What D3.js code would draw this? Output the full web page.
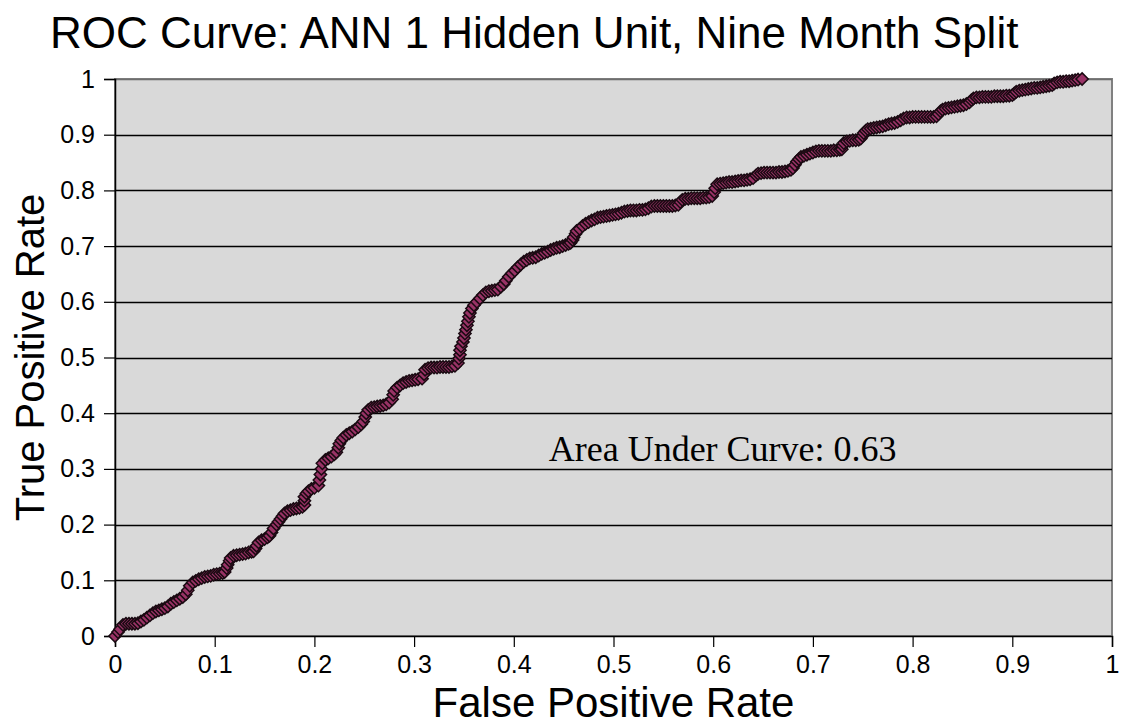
<!DOCTYPE html>
<html>
<head>
<meta charset="utf-8">
<script src="https://cdn.jsdelivr.net/npm/d3@7"></script>
<style>
  body { margin: 0; background: #fff; }
  svg text { font-family: "Liberation Sans", Arial, sans-serif; fill: #000; }
</style>
</head>
<body>
<div id="chart"></div>
<script>
// ROC points: false positive rate ...
var fpr = [
  0, 0.003, 0.005, 0.008, 0.011, 0.014, 0.017, 0.02, 0.023, 0.026,
  0.029, 0.032, 0.035, 0.038, 0.041, 0.044, 0.047, 0.05, 0.053, 0.056,
  0.059, 0.062, 0.065, 0.068, 0.071, 0.073, 0.075, 0.078, 0.081, 0.084,
  0.087, 0.09, 0.093, 0.096, 0.099, 0.102, 0.105, 0.108, 0.11, 0.112,
  0.113, 0.115, 0.116, 0.119, 0.122, 0.125, 0.128, 0.131, 0.134, 0.137,
  0.139, 0.141, 0.142, 0.144, 0.147, 0.15, 0.153, 0.155, 0.157, 0.159,
  0.162, 0.164, 0.166, 0.168, 0.17, 0.173, 0.176, 0.179, 0.182, 0.185,
  0.188, 0.19, 0.19, 0.19, 0.192, 0.194, 0.197, 0.2, 0.204, 0.205,
  0.206, 0.207, 0.208, 0.211, 0.214, 0.217, 0.22, 0.222, 0.224, 0.225,
  0.227, 0.229, 0.232, 0.235, 0.238, 0.241, 0.244, 0.247, 0.249, 0.251,
  0.252, 0.254, 0.257, 0.26, 0.263, 0.266, 0.269, 0.272, 0.275, 0.278,
  0.279, 0.28, 0.283, 0.286, 0.289, 0.292, 0.295, 0.298, 0.301, 0.304,
  0.308, 0.31, 0.311, 0.314, 0.317, 0.32, 0.323, 0.326, 0.329, 0.332,
  0.335, 0.338, 0.341, 0.344, 0.345, 0.346, 0.346, 0.347, 0.349, 0.35,
  0.351, 0.352, 0.353, 0.354, 0.355, 0.356, 0.358, 0.36, 0.363, 0.366,
  0.369, 0.372, 0.375, 0.378, 0.381, 0.384, 0.387, 0.39, 0.392, 0.395,
  0.398, 0.401, 0.404, 0.407, 0.41, 0.413, 0.416, 0.419, 0.422, 0.425,
  0.428, 0.431, 0.434, 0.437, 0.44, 0.443, 0.446, 0.449, 0.452, 0.455,
  0.457, 0.459, 0.46, 0.462, 0.463, 0.466, 0.469, 0.472, 0.475, 0.478,
  0.481, 0.484, 0.487, 0.49, 0.493, 0.496, 0.499, 0.502, 0.505, 0.508,
  0.511, 0.514, 0.517, 0.52, 0.523, 0.526, 0.529, 0.532, 0.535, 0.538,
  0.541, 0.544, 0.547, 0.55, 0.553, 0.556, 0.559, 0.562, 0.565, 0.567,
  0.569, 0.572, 0.575, 0.578, 0.581, 0.584, 0.587, 0.59, 0.593, 0.596,
  0.599, 0.601, 0.602, 0.604, 0.607, 0.61, 0.613, 0.616, 0.619, 0.622,
  0.625, 0.628, 0.631, 0.634, 0.637, 0.64, 0.643, 0.645, 0.648, 0.651,
  0.654, 0.657, 0.66, 0.663, 0.666, 0.669, 0.672, 0.675, 0.678, 0.68,
  0.682, 0.684, 0.686, 0.688, 0.691, 0.694, 0.697, 0.7, 0.703, 0.706,
  0.709, 0.712, 0.715, 0.718, 0.721, 0.724, 0.727, 0.729, 0.73, 0.731,
  0.734, 0.737, 0.74, 0.743, 0.746, 0.748, 0.75, 0.751, 0.753, 0.755,
  0.758, 0.761, 0.764, 0.767, 0.77, 0.773, 0.776, 0.779, 0.782, 0.785,
  0.788, 0.791, 0.794, 0.797, 0.8, 0.803, 0.806, 0.809, 0.812, 0.815,
  0.818, 0.821, 0.824, 0.826, 0.828, 0.83, 0.833, 0.836, 0.839, 0.842,
  0.845, 0.848, 0.851, 0.854, 0.857, 0.859, 0.861, 0.864, 0.867, 0.87,
  0.873, 0.876, 0.879, 0.882, 0.885, 0.888, 0.891, 0.894, 0.897, 0.9,
  0.902, 0.904, 0.907, 0.91, 0.913, 0.916, 0.919, 0.922, 0.925, 0.928,
  0.931, 0.934, 0.937, 0.94, 0.942, 0.945, 0.948, 0.951, 0.954, 0.957,
  0.96, 0.963, 0.966, 0.97];

// ... and true positive rate
var tpr = [
  0, 0.007, 0.012, 0.02, 0.022, 0.022, 0.022, 0.022, 0.023, 0.026,
  0.029, 0.033, 0.037, 0.041, 0.044, 0.046, 0.048, 0.05, 0.053, 0.058,
  0.061, 0.064, 0.067, 0.07, 0.075, 0.082, 0.09, 0.096, 0.099, 0.102,
  0.104, 0.106, 0.107, 0.108, 0.11, 0.111, 0.112, 0.113, 0.115, 0.122,
  0.128, 0.135, 0.14, 0.144, 0.145, 0.146, 0.147, 0.148, 0.15, 0.151,
  0.152, 0.157, 0.162, 0.168, 0.172, 0.174, 0.177, 0.18, 0.186, 0.193,
  0.2, 0.205, 0.21, 0.215, 0.22, 0.224, 0.226, 0.228, 0.229, 0.23,
  0.232, 0.235, 0.243, 0.25, 0.256, 0.26, 0.264, 0.266, 0.27, 0.28,
  0.29, 0.3, 0.31, 0.316, 0.319, 0.322, 0.326, 0.33, 0.338, 0.345,
  0.351, 0.356, 0.361, 0.364, 0.367, 0.371, 0.375, 0.38, 0.385, 0.393,
  0.4, 0.406, 0.41, 0.411, 0.412, 0.413, 0.414, 0.416, 0.419, 0.425,
  0.433, 0.44, 0.446, 0.45, 0.454, 0.456, 0.458, 0.459, 0.46, 0.461,
  0.462, 0.47, 0.478, 0.481, 0.482, 0.482, 0.482, 0.483, 0.483, 0.483,
  0.483, 0.484, 0.485, 0.49, 0.498, 0.505, 0.513, 0.52, 0.528, 0.535,
  0.543, 0.55, 0.558, 0.565, 0.573, 0.58, 0.588, 0.594, 0.6, 0.606,
  0.612, 0.617, 0.619, 0.62, 0.621, 0.622, 0.627, 0.632, 0.638, 0.645,
  0.651, 0.656, 0.662, 0.667, 0.672, 0.675, 0.678, 0.679, 0.68, 0.683,
  0.686, 0.688, 0.69, 0.693, 0.695, 0.697, 0.698, 0.7, 0.702, 0.704,
  0.706, 0.711, 0.716, 0.722, 0.727, 0.731, 0.736, 0.74, 0.743, 0.746,
  0.748, 0.751, 0.752, 0.753, 0.754, 0.755, 0.756, 0.757, 0.758, 0.76,
  0.762, 0.763, 0.764, 0.764, 0.764, 0.765, 0.765, 0.766, 0.768, 0.771,
  0.772, 0.772, 0.772, 0.772, 0.772, 0.772, 0.772, 0.773, 0.774, 0.779,
  0.783, 0.785, 0.785, 0.786, 0.786, 0.786, 0.786, 0.787, 0.787, 0.788,
  0.79, 0.797, 0.804, 0.811, 0.812, 0.813, 0.814, 0.815, 0.815, 0.816,
  0.817, 0.818, 0.818, 0.819, 0.82, 0.822, 0.827, 0.83, 0.831, 0.832,
  0.832, 0.832, 0.832, 0.832, 0.833, 0.833, 0.834, 0.835, 0.837, 0.84,
  0.846, 0.852, 0.856, 0.86, 0.862, 0.864, 0.866, 0.868, 0.87, 0.871,
  0.871, 0.871, 0.871, 0.871, 0.872, 0.872, 0.873, 0.874, 0.88, 0.885,
  0.888, 0.889, 0.89, 0.89, 0.891, 0.893, 0.898, 0.903, 0.907, 0.91,
  0.911, 0.912, 0.913, 0.914, 0.915, 0.917, 0.919, 0.92, 0.921, 0.923,
  0.926, 0.929, 0.931, 0.931, 0.932, 0.932, 0.932, 0.932, 0.932, 0.932,
  0.932, 0.932, 0.933, 0.937, 0.942, 0.945, 0.947, 0.948, 0.949, 0.95,
  0.951, 0.952, 0.953, 0.955, 0.958, 0.962, 0.965, 0.967, 0.967, 0.968,
  0.968, 0.968, 0.968, 0.969, 0.969, 0.969, 0.969, 0.97, 0.97, 0.971,
  0.974, 0.977, 0.979, 0.98, 0.981, 0.982, 0.983, 0.984, 0.984, 0.985,
  0.986, 0.987, 0.988, 0.989, 0.992, 0.994, 0.995, 0.995, 0.996, 0.996,
  0.997, 0.998, 0.999, 1];

var ticks = [0, 0.1, 0.2, 0.3, 0.4, 0.5, 0.6, 0.7, 0.8, 0.9, 1];
var titleText = "ROC Curve: ANN 1 Hidden Unit, Nine Month Split";
var aucText = "Area Under Curve: 0.63";

var W = 1122, H = 727;
var margin = {top: 79, right: 10, bottom: 91, left: 115};
var width = W - margin.left - margin.right,
    height = H - margin.top - margin.bottom;

var svg = d3.select("#chart").append("svg")
    .attr("width", W)
    .attr("height", H);

var x = d3.scaleLinear().domain([0, 1]).range([0, width]);
var y = d3.scaleLinear().domain([0, 1]).range([height, 0]);

var fmt = function(d) { return d === 0 || d === 1 ? String(d) : d.toFixed(1); };

var g = svg.append("g")
    .attr("transform", "translate(" + margin.left + "," + margin.top + ")");

// plot area
g.append("rect")
    .attr("width", width)
    .attr("height", height)
    .attr("fill", "#d9d9d9")
    .attr("stroke", "#808080")
    .attr("stroke-width", 1.5)
    .attr("shape-rendering", "crispEdges");

// gridlines
g.append("g")
    .selectAll("line")
    .data(ticks.slice(1))
    .enter().append("line")
    .attr("x1", 0)
    .attr("x2", width)
    .attr("y1", function(d) { return Math.round(y(d)) + 0.5; })
    .attr("y2", function(d) { return Math.round(y(d)) + 0.5; })
    .attr("stroke", function(d) { return d === 1 ? "#6e6e6e" : "#000"; })
    .attr("stroke-width", 1.5);

// axes
var xAxis = g.append("g")
    .attr("transform", "translate(0," + height + ")")
    .call(d3.axisBottom(x).tickValues(ticks).tickFormat(fmt).tickSize(11).tickPadding(8));

var yAxis = g.append("g")
    .call(d3.axisLeft(y).tickValues(ticks).tickFormat(fmt).tickSize(11).tickPadding(9));

[xAxis, yAxis].forEach(function(a) {
    a.select(".domain").attr("stroke", "#000").attr("stroke-width", 1.5);
    a.selectAll(".tick line").attr("stroke", "#000").attr("stroke-width", 1.2);
    a.selectAll(".tick text")
        .attr("font-family", "Liberation Sans, Arial, sans-serif")
        .attr("font-size", 25)
        .attr("fill", "#000");
});

// markers
var pts = fpr.map(function(d, i) { return [d, tpr[i]]; });
var diamond = d3.symbol().type(d3.symbolDiamond2).size(96);

g.append("g")
    .selectAll("path")
    .data(pts)
    .enter().append("path")
    .attr("d", diamond)
    .attr("transform", function(d) { return "translate(" + x(d[0]) + "," + y(d[1]) + ")"; })
    .attr("fill", "#993366")
    .attr("stroke", "#1a0a12")
    .attr("stroke-width", 1.5);

// annotation
g.append("text")
    .attr("x", x(0.435))
    .attr("y", y(0.314))
    .attr("font-size", 36)
    .style("font-family", "'Liberation Serif', 'Times New Roman', serif")
    .text(aucText);

// titles
svg.append("text")
    .attr("x", 50)
    .attr("y", 48)
    .attr("font-size", 44)
    .text(titleText);

svg.append("text")
    .attr("x", margin.left + width / 2)
    .attr("y", 717)
    .attr("text-anchor", "middle")
    .attr("font-size", 42)
    .text("False Positive Rate");

svg.append("text")
    .attr("transform", "translate(44," + (margin.top + height / 2) + ") rotate(-90)")
    .attr("text-anchor", "middle")
    .attr("font-size", 40)
    .text("True Positive Rate");
</script>
</body>
</html>
